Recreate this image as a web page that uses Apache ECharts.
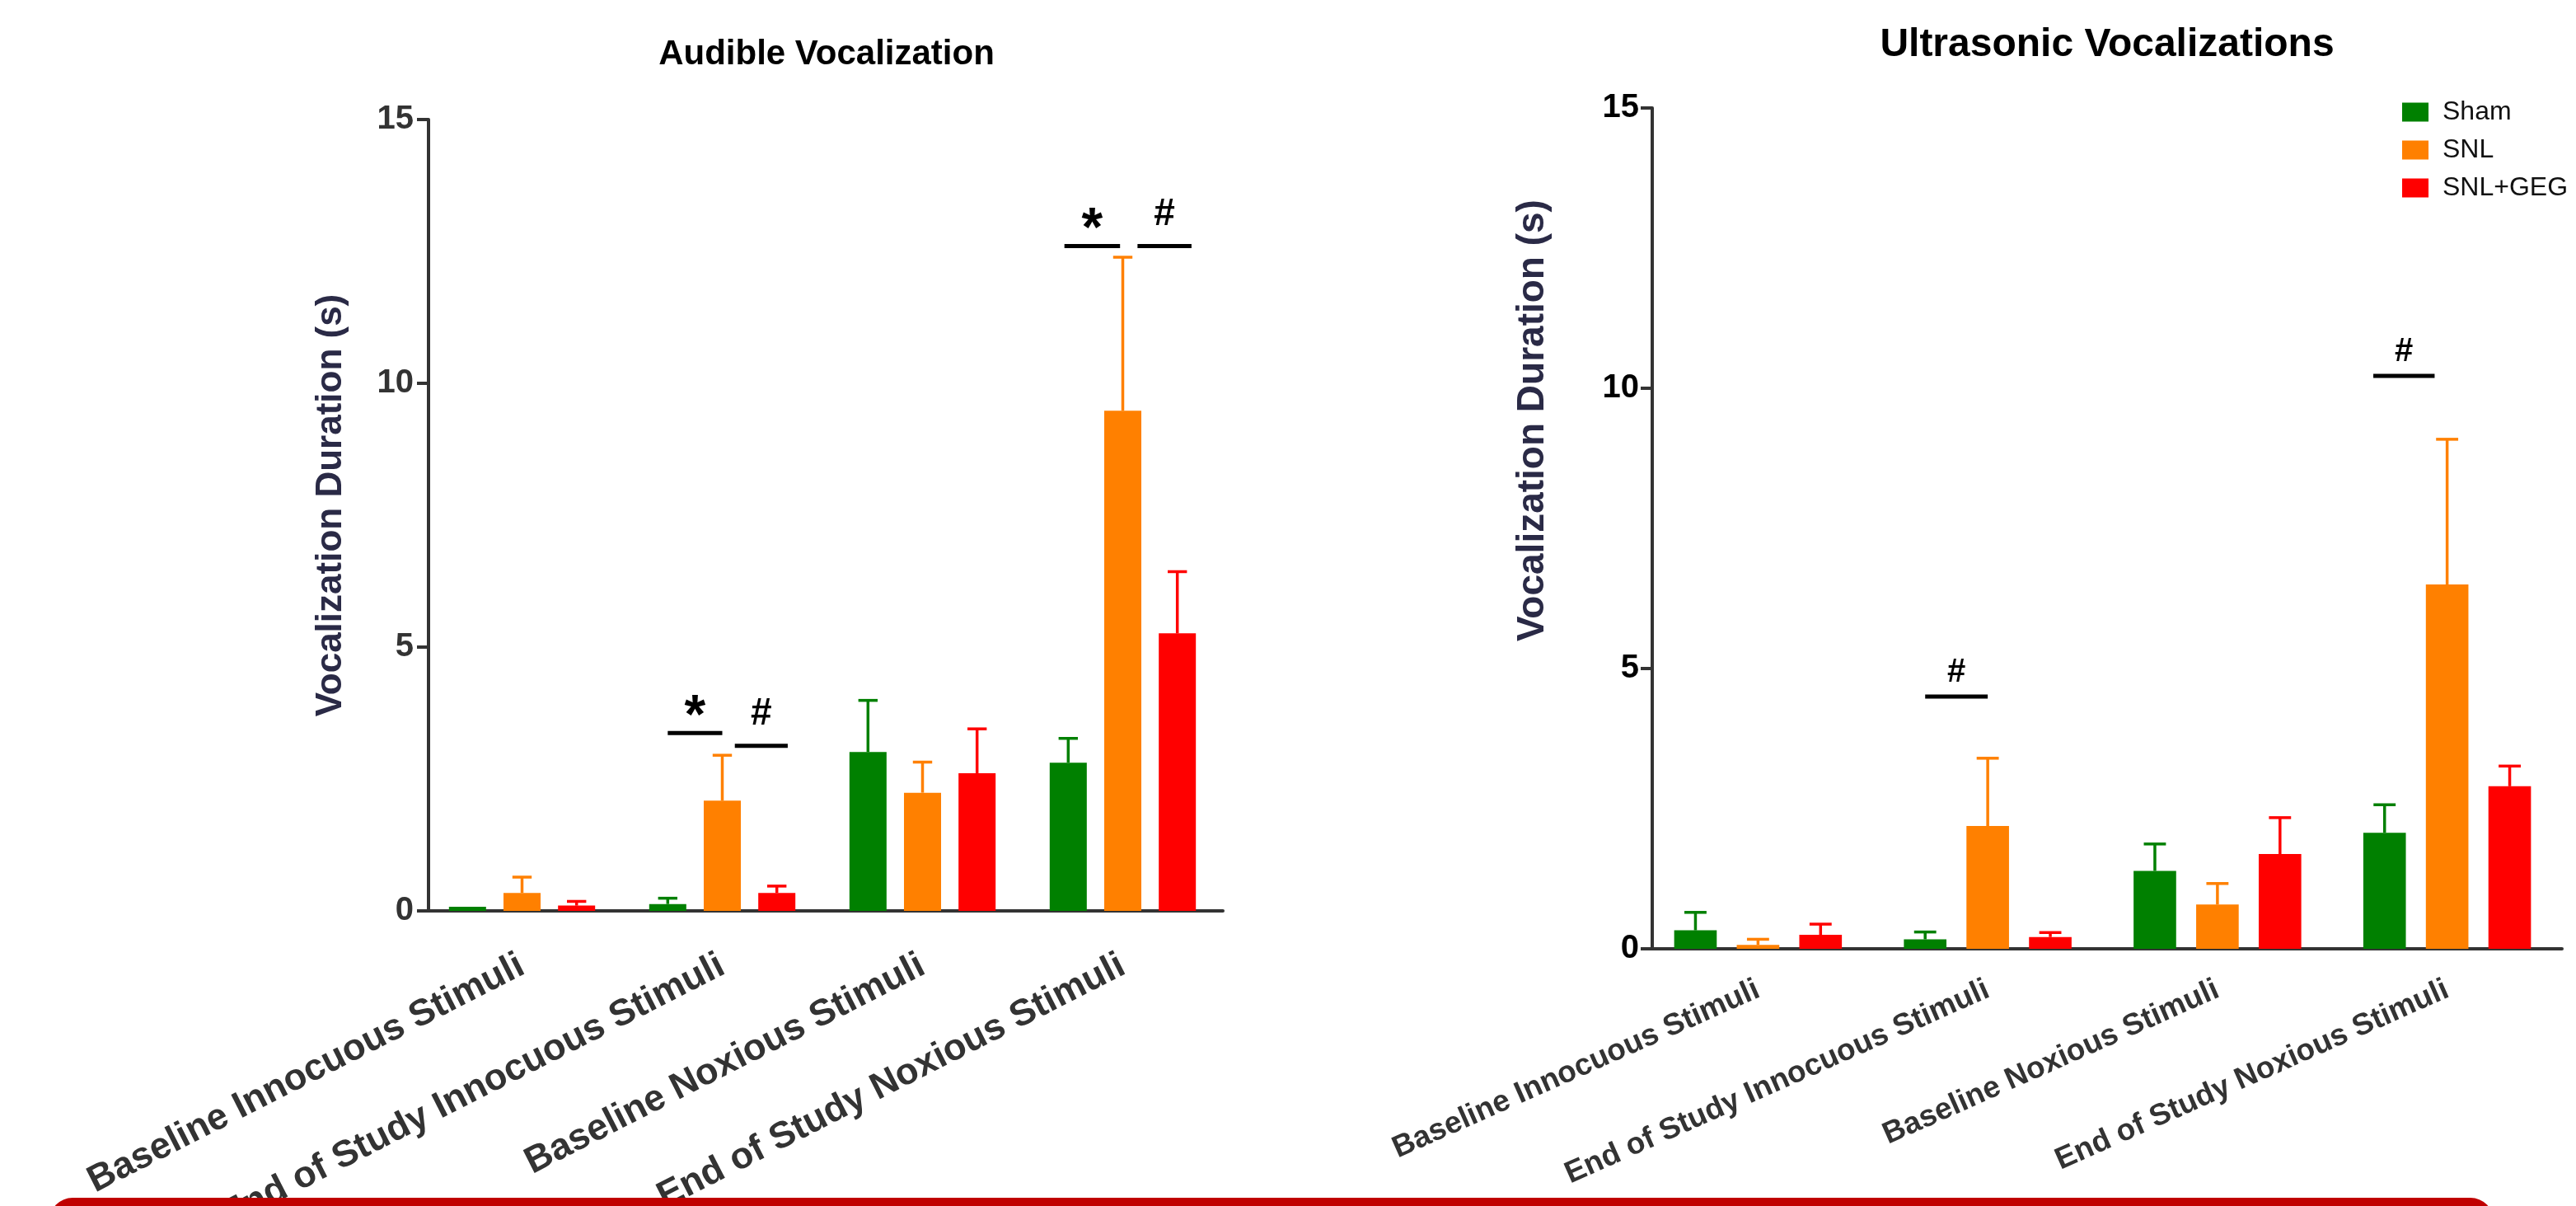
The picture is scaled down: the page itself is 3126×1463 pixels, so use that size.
<!DOCTYPE html>
<html>
<head>
<meta charset="utf-8">
<title>Vocalization Duration</title>
<script src="https://cdn.jsdelivr.net/npm/echarts@6/dist/echarts.min.js"></script>
<style>
  html, body { margin: 0; padding: 0; background: #fff; }
  #main { width: 3126px; height: 1463px; }
</style>
</head>
<body>
<div id="main"></div>
<script>
// categories / groups / ticks
const categories = ['Baseline Innocuous Stimuli', 'End of Study Innocuous Stimuli', 'Baseline Noxious Stimuli', 'End of Study Noxious Stimuli'];
const groups = ['Sham', 'SNL', 'SNL+GEG'];
const yTicks = [0, 5, 10, 15];

// Audible vocalization: mean and SEM (s)
const audibleSham = [0.08, 0.13, 3.01, 2.81];
const audibleSNL = [0.34, 2.09, 2.24, 9.48];
const audibleGEG = [0.10, 0.34, 2.61, 5.26];
const audibleShamErr = [0, 0.11, 0.98, 0.46];
const audibleSNLErr = [0.30, 0.86, 0.58, 2.91];
const audibleGEGErr = [0.08, 0.13, 0.84, 1.17];

// Ultrasonic vocalizations: mean and SEM (s)
const ultraSham = [0.33, 0.17, 1.39, 2.07];
const ultraSNL = [0.07, 2.19, 0.79, 6.50];
const ultraGEG = [0.25, 0.21, 1.69, 2.90];
const ultraShamErr = [0.32, 0.13, 0.48, 0.50];
const ultraSNLErr = [0.10, 1.21, 0.375, 2.59];
const ultraGEGErr = [0.19, 0.08, 0.65, 0.36];

// significance bars: category, bar slots spanned, level (s), mark
const audibleSigCat = [1, 1, 3, 3];
const audibleSigFrom = [0, 1.23, -0.07, 1.27];
const audibleSigTo = [1, 2.2, 0.95, 2.26];
const audibleSigLevel = [3.37, 3.13, 12.6, 12.6];
const audibleSigMark = ['*', '#', '*', '#'];

const ultraSigCat = [1, 3];
const ultraSigFrom = [0, -0.18];
const ultraSigTo = [1, 0.8];
const ultraSigLevel = [4.5, 10.22];
const ultraSigMark = ['#', '#'];

const FONT = '"Liberation Sans", Arial, Helvetica, sans-serif';
const colors = ['#008000', '#ff8000', '#ff0000'];
const CAT_GAP = 0.27;
const BAR_GAP = 0.47;

const chart = echarts.init(document.getElementById('main'));

function slotX(api, cat, slot) {
  const band = api.size([1, 0])[0];
  const bw = band * (1 - CAT_GAP) / (groups.length + (groups.length - 1) * BAR_GAP);
  const center = api.coord([cat, 0])[0];
  return {x: center + (slot - (groups.length - 1) / 2) * bw * (1 + BAR_GAP), bw: bw};
}

function errSeries(idx, means, errs) {
  const data = [];
  means.forEach((m, g) => m.forEach((v, c) => data.push([c, v, errs[g][c], g])));
  return {
    type: 'custom',
    xAxisIndex: idx,
    yAxisIndex: idx,
    silent: true,
    z: 3,
    encode: {x: 0, y: 1},
    data: data,
    renderItem: (params, api) => {
      const cat = api.value(0), mean = api.value(1), err = api.value(2), g = api.value(3);
      if (!err) return null;
      const p = slotX(api, cat, g);
      const yTop = api.coord([cat, mean + err])[1];
      const yMean = api.coord([cat, mean])[1];
      const cap = p.bw * 0.26;
      const st = {stroke: colors[g], lineWidth: 3.5};
      return {
        type: 'group',
        children: [
          {type: 'line', shape: {x1: p.x, y1: yMean, x2: p.x, y2: yTop}, style: st},
          {type: 'line', shape: {x1: p.x - cap, y1: yTop, x2: p.x + cap, y2: yTop}, style: st}
        ]
      };
    }
  };
}

function sigSeries(idx, cats, from, to, level, marks, sizes) {
  return {
    type: 'custom',
    xAxisIndex: idx,
    yAxisIndex: idx,
    silent: true,
    z: 4,
    encode: {x: 0, y: 1},
    data: cats.map((c, i) => [c, level[i]]),
    renderItem: (params, api) => {
      const i = params.dataIndex;
      const cat = api.value(0);
      const xa = slotX(api, cat, from[i]).x;
      const xb = slotX(api, cat, to[i]).x;
      const y = api.coord([cat, api.value(1)])[1];
      const mk = marks[i];
      const s = sizes[mk];
      return {
        type: 'group',
        children: [
          {type: 'line', shape: {x1: xa, y1: y, x2: xb, y2: y}, style: {stroke: '#000', lineWidth: 5}},
          {type: 'text', style: {
            text: mk, x: (xa + xb) / 2, y: y - s.lift,
            fill: '#000', fontSize: s.size, fontWeight: 'bold', fontFamily: FONT,
            align: 'center', verticalAlign: 'bottom'
          }}
        ]
      };
    }
  };
}

function barSeries(idx, lists) {
  return lists.map((vals, g) => ({
    type: 'bar',
    name: groups[g],
    xAxisIndex: idx,
    yAxisIndex: idx,
    data: vals,
    barGap: (BAR_GAP * 100) + '%',
    barCategoryGap: (CAT_GAP * 100) + '%',
    itemStyle: {color: colors[g]},
    emphasis: {disabled: true}
  }));
}

function xAxis(idx, fontSize, rotate, margin) {
  return {
    type: 'category',
    gridIndex: idx,
    data: categories,
    axisLine: {lineStyle: {color: '#333', width: 4}},
    axisTick: {alignWithLabel: true, length: 14, lineStyle: {color: '#333', width: 4}},
    axisLabel: {
      interval: 0, rotate: rotate, margin: margin,
      fontSize: fontSize, fontWeight: 'bold', fontFamily: FONT, color: '#333'
    }
  };
}

function yAxis(idx, offset, labelColor, labelMargin, nameSize, nameGap, namePad) {
  return {
    type: 'value',
    gridIndex: idx,
    min: yTicks[0],
    max: yTicks[yTicks.length - 1],
    interval: yTicks[1] - yTicks[0],
    offset: offset,
    name: 'Vocalization Duration (s)',
    nameLocation: 'middle',
    nameGap: nameGap,
    nameTextStyle: {
      fontSize: nameSize, fontWeight: 'bold', fontFamily: FONT, color: '#2a2a46',
      padding: [0, 0, 0, namePad]
    },
    axisLine: {show: true, lineStyle: {color: '#333', width: 4}},
    axisTick: {show: true, length: 14, lineStyle: {color: '#333', width: 4}},
    splitLine: {show: false},
    axisLabel: {fontSize: 40, fontWeight: 'bold', fontFamily: FONT, color: labelColor, margin: labelMargin}
  };
}

chart.setOption({
  animation: false,
  backgroundColor: '#fff',
  title: [
    {text: 'Audible Vocalization', left: 998, top: 40, textAlign: 'center',
     textStyle: {fontSize: 42, fontWeight: 'bold', fontFamily: FONT, color: '#000'}},
    {text: 'Ultrasonic Vocalizations', left: 2552, top: 26, textAlign: 'center',
     textStyle: {fontSize: 48, fontWeight: 'bold', fontFamily: FONT, color: '#000'}}
  ],
  legend: {
    data: groups,
    orient: 'vertical',
    left: 2910,
    top: 115,
    itemWidth: 32,
    itemHeight: 23,
    itemGap: 14,
    icon: 'rect',
    textStyle: {fontSize: 32, fontFamily: FONT, color: '#111', padding: [0, 0, 0, 12]}
  },
  grid: [
    {left: 512, top: 145, width: 972, height: 960, containLabel: false, outerBoundsMode: 'none'},
    {left: 1994, top: 131, width: 1115, height: 1020, containLabel: false, outerBoundsMode: 'none'}
  ],
  xAxis: [xAxis(0, 45, 27, 64), xAxis(1, 37, 24, 48)],
  yAxis: [yAxis(0, -8, '#333', 18, 44, 96, 24), yAxis(1, -11, '#000', 16, 46, 122, 262)],
  series: [
    ...barSeries(0, [audibleSham, audibleSNL, audibleGEG]),
    ...barSeries(1, [ultraSham, ultraSNL, ultraGEG]),
    errSeries(0, [audibleSham, audibleSNL, audibleGEG], [audibleShamErr, audibleSNLErr, audibleGEGErr]),
    errSeries(1, [ultraSham, ultraSNL, ultraGEG], [ultraShamErr, ultraSNLErr, ultraGEGErr]),
    sigSeries(0, audibleSigCat, audibleSigFrom, audibleSigTo, audibleSigLevel, audibleSigMark,
      {'*': {size: 66, lift: -14}, '#': {size: 46, lift: 15}}),
    sigSeries(1, ultraSigCat, ultraSigFrom, ultraSigTo, ultraSigLevel, ultraSigMark,
      {'#': {size: 40, lift: 9}})
  ],
  graphic: [{
    type: 'rect',
    z: 100,
    shape: {x: 60, y: 1453, width: 2966, height: 40, r: [28, 28, 0, 0]},
    style: {fill: '#c00000'}
  }]
});
</script>
</body>
</html>
